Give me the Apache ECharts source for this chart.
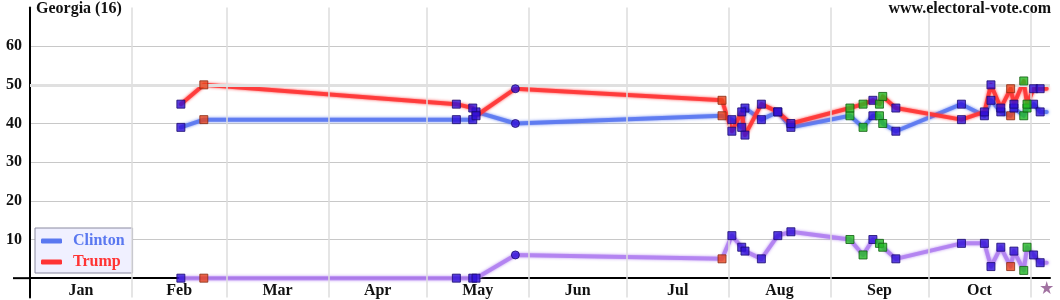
<!DOCTYPE html>
<html><head><meta charset="utf-8">
<script src="https://cdn.jsdelivr.net/npm/echarts@6/dist/echarts.min.js"></script>
<style>html,body{margin:0;padding:0;background:#fff}#c{width:1060px;height:300px}</style>
</head><body><div id="c"></div>
<script>
// ---- data ----
const chartTitle = 'Georgia (16)';
const siteName = 'www.electoral-vote.com';
const months = ['Jan','Feb','Mar','Apr','May','Jun','Jul','Aug','Sep','Oct'];
const monthStartDays = [0,31,60,91,121,152,182,213,244,274,305]; // day-of-year 2016 (Jan 1 = 0)
const yTickValues = [10,20,30,40,50,60];
const pollDays = [46,53,130,135,136,148,211,214,217,218,223,228,232,250,254,257,259,260,264,284,291,293,296,299,300,303,304,306,308];
const clinton  = [39,41,41,41,43,40,42,41,39,44,41,43,39,42,39,42,42,40,38,45,42,46,43,42,44,42,44,45,43];
const trump    = [45,50,45,44,42,49,46,38,43,37,45,43,40,44,45,46,45,47,44,41,43,50,44,49,45,51,45,49,49];
const johnson  = [0,0,0,0,0,6,5,11,8,7,5,11,12,10,6,10,9,8,5,9,9,3,8,3,7,2,8,6,4];
const pollSource = ['b','r','b','b','b','c','r','b','b','b','b','b','b','g','g','b','g','g','b','b','b','b','b','r','b','g','g','b','b'];
const todayDay = 310;

// ---- styles ----
const FONT = '"Liberation Serif", "Times New Roman", serif';
const srcStyle = {
  b: {symbol:'rect',   color:'#3010d8', border:'#1a0a70'},
  c: {symbol:'circle', color:'#3010d8', border:'#1a0a70'},
  r: {symbol:'rect',   color:'#e8441c', border:'#8a2a10'},
  g: {symbol:'rect',   color:'#22bb22', border:'#0f5f0f'}
};
const colC = '#5a78f0', colT = '#ff3434', colJ = '#b080f0';

function lineData(vals){
  const d = pollDays.map((x,i)=>[x, vals[i]]);
  d.push([todayDay, vals[vals.length-1]]);
  return d;
}
function markerData(vals){
  return pollDays.map((x,i)=>{
    const s = srcStyle[pollSource[i]];
    return {value:[x, vals[i]], symbol:s.symbol, itemStyle:{color:s.color, borderColor:s.border, borderWidth:1}};
  });
}
function lineSeries(name, vals, col){
  return {type:'line', name, data:lineData(vals), symbol:'none', z:3, silent:true,
    lineStyle:{color:col, width:4, opacity:0.88, cap:'round', join:'round', shadowColor:col, shadowBlur:3},
    itemStyle:{color:col}};
}
function markerSeries(name, vals){
  return {type:'scatter', name:name+'_m', data:markerData(vals), symbolSize:8, z:5, silent:true};
}
const midMonth = months.map((m,i)=>(monthStartDays[i]+monthStartDays[i+1])/2);

const chart = echarts.init(document.getElementById('c'), null, {renderer:'canvas'});
chart.setOption({
  animation:false,
  backgroundColor:'#fff',
  title:[
    {text:chartTitle, left:36, top:1, padding:0, textStyle:{fontFamily:FONT, fontWeight:'bold', fontSize:16, color:'#111'}},
    {text:siteName, right:9, top:1, padding:0, textStyle:{fontFamily:FONT, fontWeight:'bold', fontSize:16, color:'#111'}}
  ],
  grid:{left:30, right:10, top:7.5, bottom:2.5, containLabel:false, outerBoundsMode:'none'},
  legend:{
    left:35, top:228, orient:'vertical', padding:[5,8,3,6], itemGap:5,
    itemWidth:21, itemHeight:5, icon:'roundRect',
    backgroundColor:'#f0f0ff', borderColor:'#8a8aa0', borderWidth:1,
    textStyle:{fontFamily:FONT, fontWeight:'bold', fontSize:16, padding:[0,0,0,6]},
    data:[{name:'Clinton', textStyle:{color:colC}}, {name:'Trump', textStyle:{color:colT}}]
  },
  xAxis:{type:'value', min:0, max:311,
    axisLine:{show:true, onZero:true, lineStyle:{color:'#000', width:2}},
    axisTick:{show:false},
    splitLine:{show:false},
    axisLabel:{customValues:midMonth, margin:-15, fontFamily:FONT, fontWeight:'bold', fontSize:16, color:'#111',
      formatter:(v)=>{const i = midMonth.indexOf(v); return i>=0 ? months[i] : '';}}
  },
  yAxis:{type:'value', min:-5, max:70,
    axisLine:{show:true, onZero:false, lineStyle:{color:'#000', width:2}},
    axisTick:{show:false, customValues:yTickValues},
    splitLine:{show:true, lineStyle:{color:'#c8c8c8', width:1}},
    axisLabel:{customValues:yTickValues, margin:8, fontFamily:FONT, fontWeight:'bold', fontSize:16, color:'#111'}
  },
  series:[
    {type:'line', name:'grid', data:[], z:1, silent:true,
      markLine:{silent:true, symbol:['none','none'], label:{show:false}, animation:false,
        lineStyle:{color:'#dcdcdc', width:1.5, type:'solid'},
        data:monthStartDays.slice(1).map(d=>({xAxis:d}))}},
    {type:'line', name:'majority', data:[], z:1, silent:true,
      markLine:{silent:true, symbol:['none','none'], label:{show:false}, animation:false,
        lineStyle:{color:'#e0e0e0', width:3, type:'solid'},
        data:[{yAxis:50}]}},
    lineSeries('Johnson', johnson, colJ),
    lineSeries('Clinton', clinton, colC),
    lineSeries('Trump', trump, colT),
    markerSeries('Johnson', johnson),
    markerSeries('Clinton', clinton),
    markerSeries('Trump', trump),
    {type:'scatter', name:'today', z:6, silent:true, symbolSize:13,
      symbol:'path://M50,0 L61,35 L98,35 L68,57 L79,91 L50,70 L21,91 L32,57 L2,35 L39,35 Z',
      itemStyle:{color:'#8a4f8a'}, data:[[todayDay, -2.4]]}
  ]
});
const p0 = chart.convertToPixel({gridIndex:0}, [0,0]);
chart.setOption({graphic:[{type:'line', z:10, shape:{x1:p0[0]-17, y1:p0[1], x2:p0[0], y2:p0[1]}, style:{stroke:'#000', lineWidth:2}}]});
</script>
</body></html>
